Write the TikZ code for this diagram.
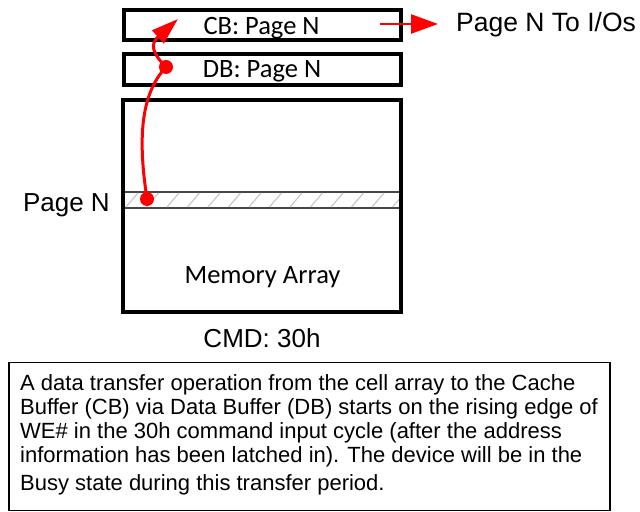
\documentclass[tikz,border=0pt]{standalone}
\usepackage{fontspec}
\newfontfamily\arialf{Liberation Sans}
\newfontfamily\calibf{Carlito}
\usetikzlibrary{arrows.meta}
\definecolor{arrred}{RGB}{255,0,0}
\definecolor{stripeedge}{RGB}{70,70,70}
\begin{document}
\begin{tikzpicture}[x=1bp,y=-1bp,
  buf/.style={draw=black, line width=4bp, minimum width=277bp, minimum height=30bp, inner sep=0pt},
  boxlbl/.style={font=\calibf\fontsize{26.5bp}{30bp}\selectfont, inner sep=0pt, anchor=base},
  bigtxt/.style={font=\arialf\fontsize{26bp}{30bp}\selectfont, inner sep=0pt},
  bodytxt/.style={font=\arialf\fontsize{22bp}{24bp}\selectfont, inner sep=0pt, anchor=base west},
  redline/.style={draw=arrred, line width=3bp},
  dot/.style={circle, fill=arrred, inner sep=0pt, minimum size=14bp},
  hatch/.style={draw=gray!45, line width=1.1bp}
]
\useasboundingbox (0,0) rectangle (640,512);

% memory array with page stripe
\node[draw=stripeedge, fill=white, line width=1.5bp, minimum width=279bp, minimum height=16bp, inner sep=0pt] (stripe) at (261.5,200) {};
\begin{scope}
  \clip (122,192.75) rectangle (401,207.25);
  \foreach \x in {126,146.5,...,400} \draw[hatch] (\x,207) -- (\x+12,193);
\end{scope}
\node[draw=black, line width=4bp, minimum width=278bp, minimum height=212bp, inner sep=0pt] (mem) at (262,206) {};
\node[boxlbl] (memlbl) at (262.5,283.5) {Memory Array};

% buffers
\node[buf] (cb) at (262,25.5) {};
\node[boxlbl] (cblbl) at (261.5,34.3) {CB: Page N};
\node[buf, minimum height=31bp] (db) at (262,70) {};
\node[boxlbl] (dblbl) at (262,77.5) {DB: Page N};

% labels
\node[bigtxt, anchor=base east] (pagen) at (110,212) {Page N};
\node[bigtxt, anchor=base] (cmd) at (262,347) {CMD: 30h};
\node[bigtxt, anchor=base west, font=\arialf\fontsize{26.5bp}{30bp}\selectfont] (io) at (456,32) {Page N To I/Os};

% output arrow
\coordinate (outstart) at (380,24);
\coordinate (outtip) at (438,24);
\draw[redline, line width=2.5bp, -{Triangle[length=27bp,width=19bp]}] (outstart) -- (outtip);

% transfer path
\node[dot] (d1) at (147,199) {};
\node[dot] (d2) at (166,67) {};
\coordinate (cbin) at (178,19);
\draw[redline] (d1.center) .. controls (138,140) and (140,95) .. (d2.center);
\draw[redline, -{Triangle[length=27bp,width=17bp]}] (d2.center) .. controls (152,53) and (150,44) .. (cbin);

% description box
\node[draw=black, line width=1.5bp, minimum width=601bp, minimum height=148bp, inner sep=0pt] (desc) at (309.5,436.25) {};
\node[bodytxt] (l1) at (20,390) {A data transfer operation from the cell array to the Cache};
\node[bodytxt] (l2) at (20,414) {Buffer (CB) via Data Buffer (DB) starts on the rising edge of};
\node[bodytxt] (l3) at (20,438) {WE\# in the 30h command input cycle (after the address};
\node[bodytxt] (l4) at (20,462) {information has been latched in). The device will be in the};
\node[bodytxt] (l5) at (20,490.5) {Busy state during this transfer period.};
\end{tikzpicture}
\end{document}
